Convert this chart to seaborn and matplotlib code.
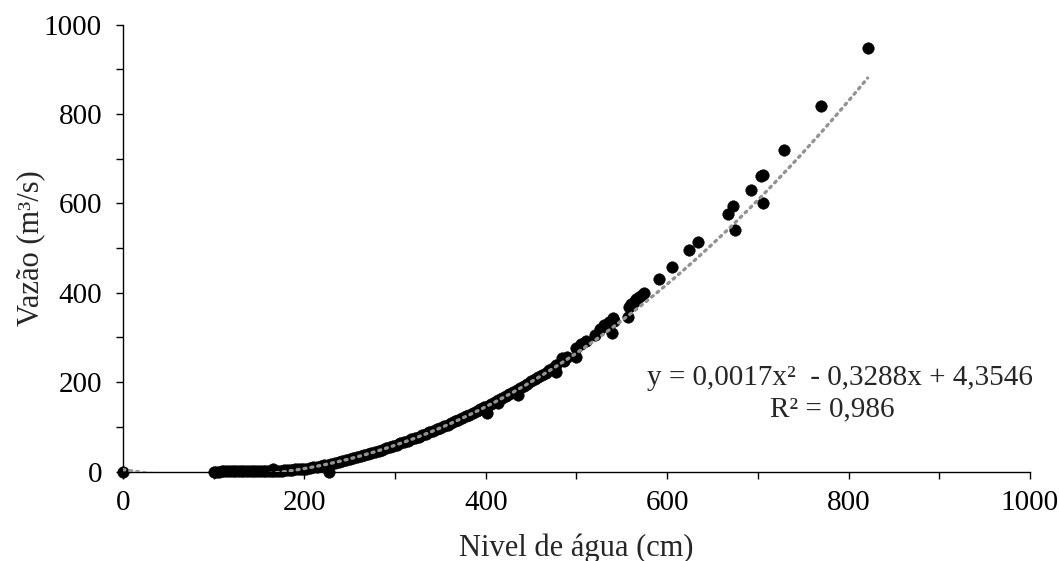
import numpy as np
import pandas as pd
import matplotlib
matplotlib.use("Agg")
import matplotlib.pyplot as plt
from matplotlib.ticker import MultipleLocator
import seaborn as sns

# Water level (cm) and measured discharge (m3/s)
nivel_baixo = [0, 100, 103, 106, 109, 112, 115, 118, 121, 124, 127, 130, 133, 136, 139,
               142, 145, 148, 151, 154, 157, 160, 163, 165, 166, 169, 172, 175, 178,
               181, 184, 187, 190, 193, 196, 199, 227]
vazao_baixo = [0, 0.0, 0.0, 0.0, 0.1, 0.1, 0.1, 0.1, 0.2, 0.2, 0.2, 0.3, 0.3, 0.3, 0.4,
               0.4, 0.5, 0.6, 0.7, 0.8, 0.9, 1.0, 1.2, 5.5, 1.4, 1.6, 1.9, 2.2, 2.6,
               3.0, 3.5, 4.0, 4.6, 5.2, 5.9, 6.6, 0.0]

nivel_medio = [202, 206, 210, 214, 218, 222, 226, 230, 234, 238, 242, 246, 250, 254, 258,
               262, 266, 270, 274, 278, 282, 286, 290, 294, 298, 302, 306, 310, 314, 318,
               322, 326, 330, 334, 338, 342, 346, 350, 354, 358, 362, 366, 370, 374, 378,
               382, 386, 390, 394, 398, 401, 402, 406, 410, 414, 414, 418, 422, 426, 430,
               434, 436, 438, 442, 446, 450, 454, 458, 462, 466]
vazao_medio = [6.0, 7.5, 9.0, 10.5, 12.0, 13.5, 15.5, 17.0, 19.0, 21.0, 23.0, 25.0, 27.5, 29.5, 32.0,
               34.0, 36.5, 39.0, 41.5, 44.0, 46.5, 49.0, 52.0, 54.5, 57.5, 60.0, 63.0, 66.0, 69.0, 72.0,
               75.0, 78.0, 81.5, 84.5, 88.0, 91.0, 94.5, 98.0, 101.5, 105.0, 108.5, 112.0, 116.0, 119.5, 123.5,
               127.0, 131.0, 135.0, 139.0, 143.5, 130.0, 147.0, 151.5, 155.5, 160.0, 152.5, 164.5, 169.0, 173.5, 178.0,
               182.5, 171.0, 187.0, 192.0, 196.5, 201.5, 206.0, 211.0, 216.0, 221.0]

nivel_alto = [470, 474, 478, 478, 484, 486, 490, 500, 500, 505, 511, 520, 526, 530, 536,
              540, 539, 541, 557, 558, 560, 563, 566, 569, 572, 575, 591, 605, 624, 634,
              667, 673, 675, 692, 704, 706, 706, 729, 770, 821]
vazao_alto = [226, 232, 238, 223, 253, 247, 256, 276, 257, 285, 293, 305, 318, 328, 335,
              343, 310, 336, 346, 369, 375, 380, 385, 390, 395, 399, 430, 457, 495, 513,
              577, 594, 540, 630, 660, 663, 600, 719, 817, 948]

# Second-order fit reported on the chart
coef_a, coef_b, coef_c = 0.0017, -0.3288, 4.3546
r2 = 0.986

df = pd.DataFrame({
    "nivel": nivel_baixo + nivel_medio + nivel_alto,
    "vazao": vazao_baixo + vazao_medio + vazao_alto,
})

sns.set_style("ticks")
plt.rcParams["font.family"] = ["Liberation Serif", "DejaVu Serif"]

fig = plt.figure(figsize=(10.59, 5.61), dpi=100)
ax = fig.add_axes([0.116, 0.1595, 0.8566, 0.7968])

# Trendline from the stated equation
xt = np.linspace(0, max(df["nivel"]), 400)
yt = coef_a * xt ** 2 + coef_b * xt + coef_c
ax.plot(xt, yt, color="#939393", linewidth=2.4, linestyle=(0, (0.6, 1.5)),
        dash_capstyle="round", zorder=3)

sns.scatterplot(data=df, x="nivel", y="vazao", ax=ax, color="black", s=70,
                edgecolor="black", linewidth=0.3, clip_on=False, zorder=2)

ax.set_xlim(0, 1000)
ax.set_ylim(0, 1000)
ax.xaxis.set_major_locator(MultipleLocator(200))
ax.xaxis.set_minor_locator(MultipleLocator(100))
ax.yaxis.set_major_locator(MultipleLocator(200))
ax.yaxis.set_minor_locator(MultipleLocator(100))
ax.tick_params(axis="both", which="both", direction="out", length=5, width=1,
               color="black", labelsize=21, labelcolor="black")
ax.tick_params(axis="x", pad=8)
ax.tick_params(axis="y", pad=10)

for side in ("top", "right"):
    ax.spines[side].set_visible(False)
for side in ("left", "bottom"):
    ax.spines[side].set_color("black")
    ax.spines[side].set_linewidth(1)

ax.set_xlabel("Nivel de água (cm)", fontsize=22, labelpad=13)
ax.set_ylabel("Vazão (m³/s)", fontsize=22, labelpad=-1)

ax.text(790, 209, "y = 0,0017x²  - 0,3288x + 4,3546", ha="center", va="center", fontsize=21)
ax.text(782, 138, "R² = 0,986", ha="center", va="center", fontsize=21)

fig.savefig("out.png", dpi=100, facecolor="white")
